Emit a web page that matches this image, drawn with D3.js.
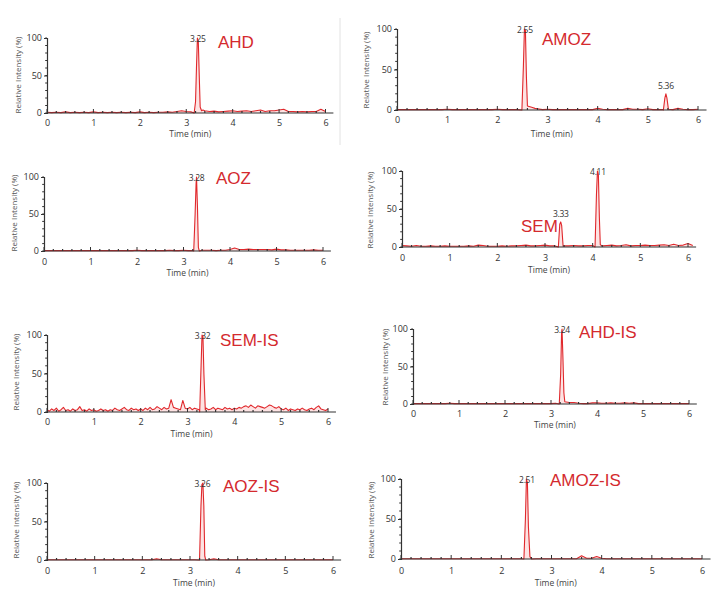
<!DOCTYPE html>
<html><head><meta charset="utf-8">
<script src="https://cdn.jsdelivr.net/npm/d3@7"></script>
<style>body{margin:0;background:#fff}svg{display:block}</style>
</head><body>
<svg id="c" width="724" height="598"></svg>
<script>
// ---- data ----
const xTicks = [0,1,2,3,4,5,6];
const yTicks = [0,50,100];
const names = ["AHD","AMOZ","AOZ","SEM","SEM-IS","AHD-IS","AOZ-IS","AMOZ-IS"];
const baseStep = [0.1,0.1,0.1,0.1,0.05,0.1,0.1,0.1];
// baseline intensities (%), sampled from t = 0
const ahdBase = [1,0.5,1,0.5,1.5,0.5,1,0.5,1,0.5, 1.5,0.5,1,0.5,1,0.5,1,0.5,1,0.5, 1.5,0.5,1,0.5,1,1,1.5,1,2,3, 2,1.5,1,1,3,2,2.5,1.5,2,2.5, 3,2,2.5,3,2,3,4,2,3,3, 4,5,2,2,1.5,2,1.5,2,2,5, 2];
const amozBase = [0.5,0.5,0.5,0.5,0.5,0.5,0.5,0.5,0.5,0.5, 1,0.5,0.5,0.5,0.5,0.5,0.5,0.5,0.5,0.5, 1,0.5,0.5,0.5,0.5,0.5,2,2,1.5,0.5, 1,0.5,0.5,0.5,0.5,0.5,0.5,0.5,0.5,0.5, 2,1,0.5,0.5,0.5,0.5,2,1,1,0.5, 1.5,0.5,0.5,0.5,0.5,0.5,2,1,0.5,0.5, 1];
const aozBase = [0.5,0.5,0.5,0.5,0.5,0.5,0.5,0.5,0.5,0.5, 0.5,0.5,0.5,0.5,0.5,0.5,0.5,0.5,0.5,0.5, 1,0.5,0.5,0.5,0.5,0.5,0.5,1,0.5,0.5, 1,0.5,0.5,0.5,1,1,1,0.5,1,1, 2,4,2,2,2.5,2,2,2,2,1.5, 2.5,1.5,1.5,1,1,1,1,1,1.5,1, 1];
const semBase = [2,1.5,1,2,1,1,1.5,1,1,1.5, 1,1,1,1,1.5,1,2.5,2,1,1, 1,1.5,1,1.5,1.5,2,2.5,1.5,1.5,2, 2.5,1.5,1.5,2,1.5,1.5,2,1.5,1.5,2, 2,3,1.5,2,2.5,1.5,2,3,1.5,2, 2,2.5,2,2,2.5,3,2,3.5,2,2.5, 4.5,2];
const semIsBase = [3,1,4,2,5,1,3,6,2,3, 1,4,2,3,7,2,3,1,4,2,
                   3,1,2,4,2,3,1,3,2,5, 3,2,4,6,3,2,5,3,4,2,
                   4,2,5,3,6,3,4,7,5,3, 6,4,5,16,6,5,4,3,15,5,
                   4,6,3,5,4,3,0,0,5,3, 4,6,3,5,4,3,6,4,5,3,
                   5,4,6,5,7,8,6,9,7,5, 8,7,6,5,7,9,8,6,5,7,
                   4,3,5,2,4,3,2,4,3,5, 3,2,4,5,3,6,8,4,3,2, 4];
const ahdIsBase = [0.5,0.5,0.5,0.5,0.5,0.5,0.5,0.5,1,0.5, 0.5,0.5,0.5,0.5,0.5,0.5,0.5,0.5,0.5,0.5, 0.5,0.5,0.5,0.5,0.5,0.5,0.5,0.5,0.5,0.5, 0.5,1,1,0.5,2,2,1,0.5,0.5,1.5, 1.5,1,1,1.5,1,1,1.5,1,1.5,0.5, 0.5,0.5,0.5,0.5,0.5,0.5,0.5,0.5,0.5,0.5, 0.5];
const aozIsBase = [0.3,0.3,0.3,0.3,0.3,0.3,0.3,0.3,0.3,0.3, 0.3,0.3,0.3,0.3,0.3,0.3,0.3,0.3,0.3,0.3, 0.3,0.3,0.3,1.5,0.3,0.3,0.3,0.3,0.3,0.3, 0.3,0.3,0.3,0.3,0.3,1.5,0.3,0.3,0.3,0.3, 0.3,0.3,0.3,0.3,0.3,0.3,0.3,0.3,0.3,0.3, 0.3,0.3,0.3,0.3,0.3,0.3,0.3,0.3,0.3,0.3, 0.3];
const amozIsBase = [0.3,0.3,0.3,0.3,0.3,0.3,0.3,0.3,0.3,0.3, 0.3,0.3,0.3,0.3,0.3,0.3,0.3,0.3,0.3,0.3, 0.3,0.3,0.3,0.3,0.3,0.3,0.3,0.3,0.3,0.3, 0.3,0.3,0.3,0.3,0.3,0.3,4,1,1,3, 1,0.3,0.3,0.3,0.3,0.3,0.3,0.3,0.3,0.3, 0.3,0.3,0.3,0.3,0.3,0.3,0.3,0.3,0.3,0.3, 0.3];
const bases = [ahdBase,amozBase,aozBase,semBase,semIsBase,ahdIsBase,aozIsBase,amozIsBase];
// peaks: [time, intensity] points
const ahdPeaks = [[[3.17,0],[3.2,15],[3.22,60],[3.24,100],[3.26,95],[3.28,50],[3.3,8],[3.33,3],[3.36,4]]];
const amozPeaks = [[[2.49,0],[2.52,55],[2.54,100],[2.56,98],[2.58,40],[2.6,5],[2.65,4],[2.7,3],[2.75,2]],
                   [[5.31,0],[5.34,15],[5.36,20],[5.38,15],[5.41,1]]];
const aozPeaks = [[[3.22,0],[3.25,50],[3.27,90],[3.28,100],[3.3,60],[3.32,5],[3.34,0]]];
const semPeaks = [[[3.28,0],[3.31,30],[3.33,33],[3.35,28],[3.38,1]],
                  [[4.05,0],[4.08,70],[4.1,100],[4.12,95],[4.14,40],[4.16,3]]];
const semIsPeaks = [[[3.26,0],[3.29,60],[3.31,100],[3.33,98],[3.35,50],[3.38,3]]];
const ahdIsPeaks = [[[3.18,0],[3.21,40],[3.23,95],[3.24,100],[3.26,60],[3.28,15],[3.3,3]]];
const aozIsPeaks = [[[3.2,0],[3.23,70],[3.25,98],[3.27,100],[3.29,70],[3.31,5],[3.33,0]]];
const amozIsPeaks = [[[2.45,0],[2.48,50],[2.5,100],[2.52,95],[2.54,40],[2.57,3],[2.6,0]]];
const peaks = [ahdPeaks,amozPeaks,aozPeaks,semPeaks,semIsPeaks,ahdIsPeaks,aozIsPeaks,amozIsPeaks];
// peak labels: [time, intensity]
const peakLabels = [[[3.25,100]],[[2.55,100],[5.36,20]],[[3.28,100]],[[3.33,33],[4.11,100]],
                    [[3.32,100]],[[3.24,100]],[[3.26,100]],[[2.51,100]]];

// ---- layout ----
const layout = [
  {x0:47, x6:325.5, y0:113, y100:38, lab:[218,48], yl:[21,75], tk:10, tt:24},
  {x0:397, x6:698, y0:110, y100:29, lab:[542,45], yl:[369,70], tk:10, tt:27},
  {x0:44, x6:323, y0:251, y100:177, lab:[216,184], yl:[17,213], tk:11, tt:25},
  {x0:402, x6:688, y0:247, y100:171, lab:[521,232], yl:[373,210], tk:11, tt:26},
  {x0:47, x6:328, y0:412, y100:335, lab:[220,346], yl:[19,372], tk:10, tt:25},
  {x0:413, x6:689, y0:404, y100:329, lab:[579,338], yl:[388,367], tk:10, tt:24},
  {x0:47, x6:333, y0:560, y100:483, lab:[223,492], yl:[19,520], tk:11, tt:26},
  {x0:401, x6:702, y0:559, y100:479, lab:[550,486], yl:[374,520], tk:12, tt:27}
];

const svg = d3.select("#c");
svg.append("line").attr("x1",340).attr("x2",340).attr("y1",18).attr("y2",145)
  .attr("stroke","#e2e2e2").attr("stroke-width",1);

layout.forEach((L,i)=>{
  const x = d3.scaleLinear().domain([0,6]).range([L.x0,L.x6]);
  const y = d3.scaleLinear().domain([0,100]).range([L.y0,L.y100]);
  const xEnd = x(6.17);
  const g = svg.append("g");
  // data
  const step = baseStep[i];
  const pk = peaks[i];
  let pts = bases[i].map((v,k)=>[+(k*step).toFixed(3), v])
    .filter(p=>!pk.some(pp=>p[0]>=pp[0][0]-0.001 && p[0]<=pp[pp.length-1][0]+0.001));
  pk.forEach(pp=>pts = pts.concat(pp));
  pts.sort((a,b)=>a[0]-b[0]);
  g.append("path").datum(pts)
    .attr("d", d3.area().x(d=>x(d[0])).y0(y(0)).y1(d=>y(d[1])))
    .attr("fill","#fde3e3");
  g.append("path").datum(pts)
    .attr("d", d3.line().x(d=>x(d[0])).y(d=>y(d[1])))
    .attr("fill","none").attr("stroke","#e0282c").attr("stroke-width",1.1)
    .attr("stroke-linejoin","round");
  // axes
  const ax = g.append("g").attr("transform",`translate(0,${L.y0})`)
    .call(d3.axisBottom(x).tickValues(xTicks).tickSize(0).tickPadding(L.tk-3).tickFormat(d3.format("d")));
  ax.select(".domain").remove();
  ax.selectAll("text").attr("font-family","Open Sans, sans-serif").attr("font-size",9).attr("fill","#333");
  g.append("line").attr("x1",L.x0).attr("x2",xEnd).attr("y1",L.y0).attr("y2",L.y0)
    .attr("stroke","#333").attr("stroke-width",1.2);
  // x ticks
  d3.range(0,31).map(k=>k/5).forEach(t=>{
    const major = Math.abs(t-Math.round(t))<1e-6;
    g.append("line").attr("x1",x(t)).attr("x2",x(t))
      .attr("y1",L.y0).attr("y2",L.y0-(major?4:2))
      .attr("stroke","#333").attr("stroke-width",major?1:1.2);
  });
  const ay = g.append("g").attr("transform",`translate(${L.x0},0)`)
    .call(d3.axisLeft(y).tickValues(yTicks).tickSize(3).tickPadding(2));
  ay.select(".domain").attr("stroke","#333").attr("stroke-width",1.2);
  ay.selectAll(".tick line").attr("stroke","#333");
  ay.selectAll("text").attr("font-family","Open Sans, sans-serif").attr("font-size",9).attr("fill","#333");
  d3.range(0,101,10).forEach(v=>{
    g.append("line").attr("x1",L.x0).attr("x2",L.x0-1.8).attr("y1",y(v)).attr("y2",y(v))
      .attr("stroke","#333").attr("stroke-width",1);
  });
  // titles
  g.append("text").attr("x",(L.x0+xEnd)/2).attr("y",L.y0+L.tt)
    .attr("text-anchor","middle").attr("font-family","Open Sans, sans-serif")
    .attr("font-size",8.5).attr("fill","#444").text("Time (min)");
  g.append("text").attr("transform",`translate(${L.yl[0]},${L.yl[1]}) rotate(-90)`)
    .attr("text-anchor","middle").attr("font-family","Open Sans, sans-serif")
    .attr("font-size",8).attr("fill","#555").text("Relative Intensity (%)");
  // peak labels
  peakLabels[i].forEach(p=>{
    g.append("text").attr("x",x(p[0])).attr("y",Math.max(y(p[1])-5, L.y100+4))
      .attr("text-anchor","middle").attr("font-family","Open Sans, sans-serif")
      .attr("font-size",8.5).attr("fill","#333").attr("letter-spacing",-0.3).text(p[0].toFixed(2));
  });
  // compound label
  g.append("text").attr("x",L.lab[0]).attr("y",L.lab[1])
    .attr("font-family","Liberation Sans, Arial, sans-serif").attr("font-size",17)
    .attr("fill","#d42a2e").text(names[i]);
});
</script>
</body></html>
